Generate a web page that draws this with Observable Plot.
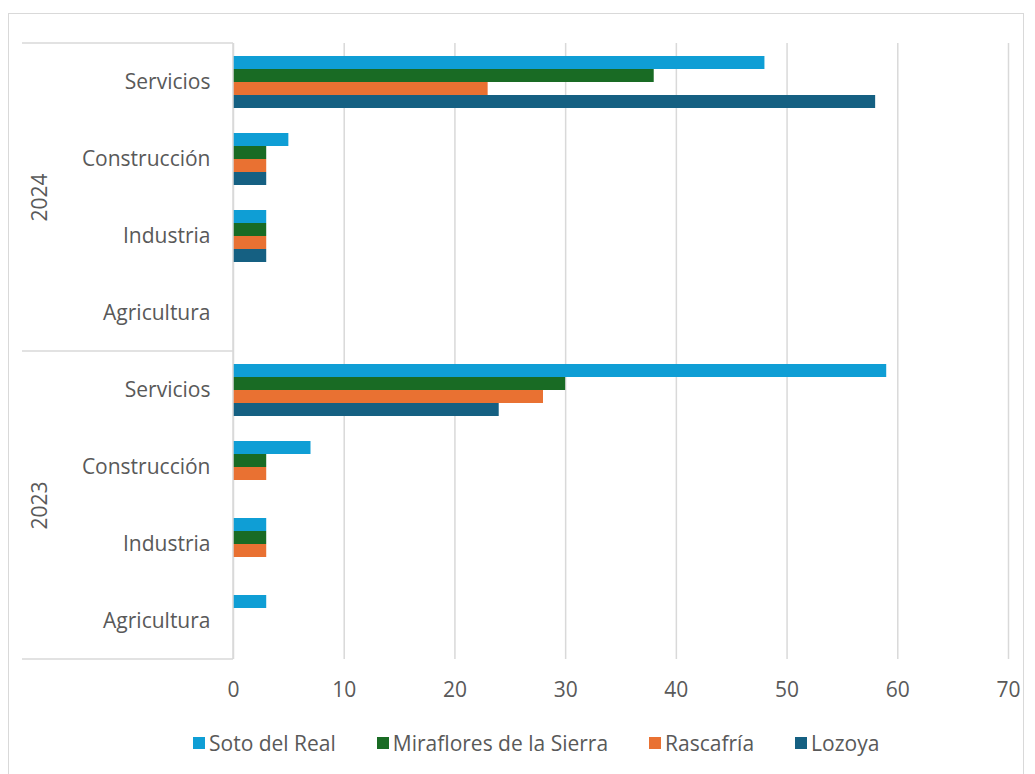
<!DOCTYPE html>
<html>
<head>
<meta charset="utf-8">
<script src="https://cdn.jsdelivr.net/npm/d3@7"></script>
<script src="https://cdn.jsdelivr.net/npm/@observablehq/plot@0.6"></script>
<style>
  body { margin: 0; background: #fff; font-family: "Open Sans", sans-serif; }
  #wrap { position: relative; width: 1035px; height: 774px; overflow: hidden; }
  #frame { position: absolute; left: 8px; top: 13px; width: 1016px; height: 770px; border: 1px solid #d9d9d9; box-sizing: border-box; }
  #chart { position: absolute; left: 0; top: 0; }
  #legend { position: absolute; left: 193px; top: 729px; display: flex; align-items: center; gap: 41px; font-size: 21px; color: #595959; white-space: nowrap; }
  #legend .item { display: flex; align-items: center; gap: 4px; }
  #legend .sw { width: 12px; height: 12px; display: inline-block; }
</style>
</head>
<body>
<div id="wrap">
  <div id="frame"></div>
  <div id="chart"></div>
  <div id="legend"></div>
</div>
<script>
const years = ["2024", "2023"];
const categories = ["Servicios", "Construcción", "Industria", "Agricultura"];
const series = ["Soto del Real", "Miraflores de la Sierra", "Rascafría", "Lozoya"];
const colors = ["#0f9ed5", "#196b24", "#e97132", "#156082"];
const xTicks = [0, 10, 20, 30, 40, 50, 60, 70];

// values per series, in category order
const soto2024 = [48, 5, 3, 0];
const miraflores2024 = [38, 3, 3, 0];
const rascafria2024 = [23, 3, 3, 0];
const lozoya2024 = [58, 3, 3, 0];
const soto2023 = [59, 7, 3, 3];
const miraflores2023 = [30, 3, 3, 0];
const rascafria2023 = [28, 3, 3, 0];
const lozoya2023 = [24, 0, 0, 0];

const valuesByYear = {
  "2024": [soto2024, miraflores2024, rascafria2024, lozoya2024],
  "2023": [soto2023, miraflores2023, rascafria2023, lozoya2023]
};

const keys = years.flatMap(y => categories.map(c => y + "|" + c));
const rows = [];
years.forEach(y => {
  categories.forEach((c, ci) => {
    series.forEach((s, si) => {
      rows.push({key: y + "|" + c, series: s, value: valuesByYear[y][si][ci]});
    });
  });
});
const yearRows = years.map(y => ({year: y, key: y + "|" + categories[1]}));

const plot = Plot.plot({
  width: 1035,
  height: 705,
  marginTop: 42,
  marginBottom: 45,
  marginLeft: 233,
  marginRight: 27,
  style: {fontFamily: "Open Sans", fontSize: "21px", color: "#595959", background: "transparent", overflow: "visible"},
  x: {domain: [0, 70], ticks: xTicks, tickSize: 0, tickPadding: 23, label: null, tickFormat: d => String(d)},
  fy: {domain: keys, padding: 0, axis: "left", tickFormat: k => k.split("|")[1], tickSize: 0, tickPadding: 23, label: null},
  y: {domain: series, paddingInner: 0, paddingOuter: 0.96, axis: null},
  color: {domain: series, range: colors},
  marks: [
    Plot.gridX(xTicks, {stroke: "#d9d9d9", strokeOpacity: 1, strokeWidth: 1.5}),
    Plot.barX(rows, {x: "value", y: "series", fy: "key", fill: "series", filter: d => d.value > 0}),
    Plot.text(yearRows, {fy: "key", text: "year", frameAnchor: "bottom-left", dx: -193, rotate: -90, textAnchor: "middle", lineAnchor: "middle", fontSize: 21, fill: "#595959"})
  ]
});

// separator lines of the year groups, extending into the left margin
const fy = plot.scale("fy");
const x = plot.scale("x");
const x0 = x.apply(0);
const sepY = [
  fy.apply(years[0] + "|" + categories[0]),
  fy.apply(years[1] + "|" + categories[0]),
  fy.apply(years[1] + "|" + categories[categories.length - 1]) + fy.bandwidth
];
const svg = d3.select(plot);
svg.append("g").selectAll("line").data(sepY).join("line")
  .attr("x1", 22).attr("x2", x0)
  .attr("y1", d => d).attr("y2", d => d)
  .attr("stroke", "#d9d9d9").attr("stroke-width", 1.5);
svg.append("line")
  .attr("x1", x0).attr("x2", x0)
  .attr("y1", sepY[0]).attr("y2", sepY[2])
  .attr("stroke", "#d9d9d9").attr("stroke-width", 1.5);

document.getElementById("chart").appendChild(plot);

const legend = d3.select("#legend");
series.forEach((s, i) => {
  const it = legend.append("div").attr("class", "item");
  it.append("span").attr("class", "sw").style("background", colors[i]);
  it.append("span").text(s);
});
</script>
</body>
</html>
